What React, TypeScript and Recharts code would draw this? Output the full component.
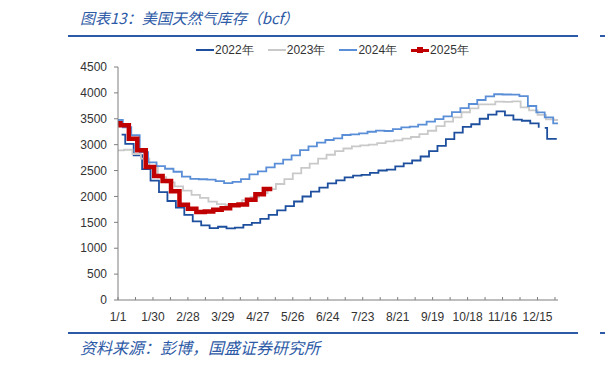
import React from 'react';
import { LineChart, Line, XAxis, YAxis } from 'recharts';

// x axis: day of year, labels every 29 days, minor ticks halfway
const tickLabels = ['1/1', '1/30', '2/28', '3/29', '4/27', '5/26', '6/24', '7/23', '8/21', '9/19', '10/18', '11/16', '12/15'];
const yTicks = [0, 500, 1000, 1500, 2000, 2500, 3000, 3500, 4000, 4500];

const seriesNames = ['2022年', '2023年', '2024年', '2025年'];
const seriesColors = ['#1D4F9E', '#C9C9C9', '#5A8FD8', '#C00000'];
const seriesWidths = [1.8, 1.8, 1.8, 4.5];

// previous year-end stock carried into January, and where each line begins
const carryOver = [3194, 2891, 3476, 3413];
const startDay = [3, 0, 0, 0];
const firstReport = [6, 5, 4, 2];
const endDay = [364, 365, 365, 128];

// weekly working gas in storage, bcf
const stock2022 = [3015, 2796, 2528, 2306, 2084, 1912, 1783, 1643, 1519, 1440, 1389, 1415, 1382, 1397, 1450, 1490, 1567, 1643, 1732, 1812, 1902, 1999, 2095, 2169, 2251, 2311, 2369, 2401, 2416, 2457, 2501, 2519, 2579, 2640, 2694, 2771, 2874, 2977, 3106, 3231, 3342, 3394, 3501, 3580, 3644, 3564, 3483, 3462, 3412, 3325, 3112];
const stock2023 = [2902, 2820, 2729, 2588, 2371, 2271, 2195, 2114, 2030, 1972, 1900, 1853, 1830, 1855, 1930, 1984, 2063, 2141, 2240, 2336, 2446, 2550, 2634, 2729, 2805, 2877, 2926, 2967, 2987, 3001, 3030, 3065, 3083, 3115, 3148, 3205, 3269, 3359, 3445, 3529, 3626, 3700, 3779, 3779, 3833, 3826, 3836, 3719, 3664, 3577, 3490, 3476];
const stock2024 = [3336, 3182, 2856, 2659, 2584, 2535, 2477, 2381, 2341, 2332, 2325, 2296, 2259, 2283, 2333, 2425, 2484, 2563, 2633, 2711, 2795, 2893, 2967, 3038, 3090, 3122, 3187, 3197, 3219, 3249, 3270, 3264, 3299, 3334, 3347, 3387, 3445, 3492, 3547, 3629, 3705, 3785, 3863, 3932, 3974, 3969, 3967, 3937, 3747, 3622, 3529, 3413];
const stock2025 = [3373, 3115, 2892, 2571, 2397, 2297, 2100, 1840, 1760, 1698, 1707, 1744, 1773, 1830, 1846, 1934, 2041, 2145];
const seriesValues = [stock2022, stock2023, stock2024, stock2025];

// 2022 line has a few missing days before Christmas
const gap2022 = { from: 350, to: 354 };

type Pt = { day: number; v: number | null };

const buildPoints = (i: number): Pt[] => {
  const vals = seriesValues[i];
  const pts: Pt[] = [{ day: startDay[i], v: carryOver[i] }];
  vals.forEach((v, k) => pts.push({ day: firstReport[i] + 7 * k, v }));
  pts.push({ day: endDay[i], v: vals[vals.length - 1] });
  if (i === 0) {
    const idx = pts.findIndex((p) => p.day > gap2022.from);
    const prev = pts[idx - 1].v;
    pts.splice(idx, 0, { day: gap2022.from, v: null }, { day: gap2022.to, v: prev });
  }
  return pts;
};

const xTicks = tickLabels.flatMap((_, i) => (i < tickLabels.length - 1 || true ? [i * 29, i * 29 + 14.5] : [i * 29]));

const BLUE = '#2D5AA6';
const FONT = '"Liberation Sans", Arial, sans-serif';
const CJK = '"Noto Sans CJK SC", sans-serif';

const LegendItem = ({ i }: { i: number }) => (
  <div style={{ display: 'flex', alignItems: 'center', marginRight: 14 }}>
    <div style={{ position: 'relative', width: 18, height: 10, marginRight: 1 }}>
      <div
        style={{
          position: 'absolute',
          left: 0,
          right: 0,
          top: i === 3 ? 4 : 4,
          height: i === 3 ? 3 : 2,
          background: seriesColors[i],
        }}
      />
      {i === 3 && (
        <div style={{ position: 'absolute', left: 6, top: 2, width: 6, height: 6, background: seriesColors[i] }} />
      )}
    </div>
    <span>{seriesNames[i]}</span>
  </div>
);

export default function App() {
  return (
    <div style={{ position: 'absolute', left: 0, top: 0, width: 605, height: 365, background: '#fff', overflow: 'hidden' }}>
      <div
        style={{
          position: 'absolute',
          left: 80,
          top: 8,
          fontFamily: CJK,
          fontSize: 15,
          fontStyle: 'italic',
          color: BLUE,
          whiteSpace: 'nowrap',
          lineHeight: '20px',
        }}
      >
        图表13：美国天然气库存（bcf）
      </div>
      <div style={{ position: 'absolute', left: 68, top: 35, width: 510, height: 2, background: BLUE }} />
      <div style={{ position: 'absolute', left: 600, top: 35, width: 5, height: 2, background: BLUE }} />

      <div
        style={{
          position: 'absolute',
          left: 196,
          top: 42,
          display: 'flex',
          fontFamily: FONT,
          fontSize: 12,
          color: '#333',
          lineHeight: '16px',
          whiteSpace: 'nowrap',
        }}
      >
        {seriesNames.map((_, i) => (
          <LegendItem key={i} i={i} />
        ))}
      </div>

      <div style={{ position: 'absolute', left: 0, top: 0 }}>
        <LineChart width={605} height={365} margin={{ top: 67, right: 47, bottom: 35, left: 0 }}>
          <XAxis
            dataKey="day"
            type="number"
            domain={[0, 365]}
            ticks={xTicks}
            interval={0}
            height={30}
            tickSize={-3}
            tickMargin={15}
            tickFormatter={(d: number) => {
              const k = Math.round(d / 14.5);
              return k % 2 === 0 ? tickLabels[k / 2] ?? '' : '';
            }}
            axisLine={{ stroke: '#7F7F7F' }}
            tickLine={{ stroke: '#7F7F7F' }}
            tick={{ fill: '#333', fontSize: 12, fontFamily: FONT }}
            allowDataOverflow
          />
          <YAxis
            type="number"
            domain={[0, 4500]}
            ticks={yTicks}
            interval={0}
            width={118}
            tickSize={4}
            tickMargin={7}
            axisLine={{ stroke: '#7F7F7F' }}
            tickLine={{ stroke: '#7F7F7F' }}
            tick={{ fill: '#333', fontSize: 12, fontFamily: FONT }}
          />
          {seriesNames.map((name, i) => (
            <Line
              key={name}
              name={name}
              data={buildPoints(i)}
              dataKey="v"
              type="stepAfter"
              stroke={seriesColors[i]}
              strokeWidth={seriesWidths[i]}
              dot={false}
              activeDot={false}
              isAnimationActive={false}
            />
          ))}
        </LineChart>
      </div>

      <div style={{ position: 'absolute', left: 68, top: 332, width: 510, height: 2, background: BLUE }} />
      <div style={{ position: 'absolute', left: 600, top: 332, width: 5, height: 2, background: BLUE }} />
      <div
        style={{
          position: 'absolute',
          left: 80,
          top: 337,
          fontFamily: CJK,
          fontSize: 16,
          fontStyle: 'italic',
          color: BLUE,
          whiteSpace: 'nowrap',
          lineHeight: '20px',
        }}
      >
        资料来源：彭博，国盛证券研究所
      </div>
    </div>
  );
}
